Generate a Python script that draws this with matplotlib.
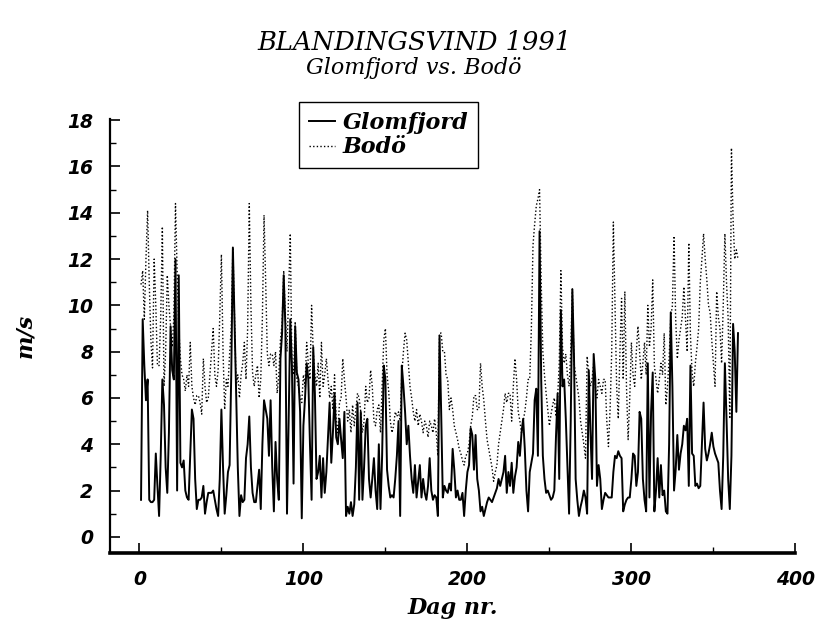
import matplotlib
matplotlib.use("Agg")
import matplotlib.pyplot as plt
import numpy as np

title = "BLANDINGSVIND 1991"
subtitle = "Glomfjord vs. Bodö"
xlabel = "Dag nr."
ylabel = "m/s"
series_names = ["Glomfjord", "Bodö"]
xticks = [0, 100, 200, 300, 400]
yticks = [0, 2, 4, 6, 8, 10, 12, 14, 16, 18]

glomfjord = [
    1.6, 9.4, 7.4, 5.9, 6.8, 1.6, 1.5, 1.5, 1.6, 3.6,
    2.2, 0.9, 3.5, 6.8, 5.7, 3.0, 1.9, 4.5, 9.1, 7.2,
    6.8, 12.0, 2.0, 11.3, 3.2, 3.0, 3.3, 2.0, 1.7, 1.6,
    3.5, 5.5, 5.1, 2.5, 1.2, 1.6, 1.6, 1.7, 2.2, 1.0,
    1.5, 1.9, 1.9, 1.9, 2.0, 1.6, 1.2, 0.9, 2.5, 5.5,
    3.0, 1.0, 1.8, 2.8, 3.1, 7.0, 12.5, 9.4, 6.2, 3.0,
    0.9, 1.8, 1.5, 1.6, 3.4, 4.0, 5.2, 3.0, 1.9, 1.5,
    1.5, 2.2, 2.9, 1.2, 4.0, 5.9, 5.5, 5.1, 3.5, 5.9,
    3.0, 1.1, 4.1, 2.5, 1.6, 7.7, 8.8, 11.3, 9.1, 1.0,
    5.0, 9.4, 7.4, 2.3, 9.1, 7.1, 6.8, 5.4, 0.8, 4.8,
    6.0, 7.5, 6.8, 4.0, 1.6, 8.2, 6.2, 2.5, 2.8, 3.5,
    1.7, 3.4, 1.9, 2.8, 4.3, 5.8, 3.2, 4.5, 6.2, 4.3,
    4.0, 5.1, 4.2, 3.4, 5.4, 0.9, 1.3, 1.0, 1.5, 0.9,
    1.4, 3.0, 5.8, 1.6, 5.4, 1.6, 3.0, 4.8, 5.1, 2.5,
    1.7, 2.5, 3.4, 2.0, 1.2, 4.0, 1.2, 3.5, 7.4, 6.8,
    2.9, 2.2, 1.7, 1.8, 1.7, 2.5, 3.5, 5.0, 0.9, 7.4,
    6.5, 5.4, 4.0, 4.8, 3.5, 2.5, 1.9, 3.1, 1.7, 2.4,
    3.1, 1.7, 2.5, 1.9, 1.6, 2.2, 3.4, 2.0, 1.6, 1.8,
    1.7, 0.9, 8.7, 5.4, 1.7, 2.2, 2.0, 1.9, 2.3, 2.0,
    3.8, 2.9, 1.7, 2.0, 1.6, 1.6, 1.9, 0.9, 2.0, 2.8,
    3.1, 4.7, 4.4, 2.9, 4.4, 2.5, 2.0, 1.1, 1.3, 0.9,
    1.2, 1.5, 1.7, 1.6, 1.5, 1.7, 1.9, 2.1, 2.5, 2.2,
    2.5, 2.8, 3.5, 1.9, 2.8, 2.2, 3.2, 1.9, 2.6, 3.0,
    4.1, 3.5, 4.5, 5.1, 3.8, 2.0, 1.1, 2.8, 3.2, 3.6,
    5.9, 6.4, 3.5, 13.2, 6.8, 3.5, 2.5, 1.9, 2.0, 1.8,
    1.6, 1.7, 2.0, 4.3, 6.2, 2.5, 9.8, 6.5, 6.8, 5.1,
    3.0, 1.0, 5.0, 10.7, 7.8, 2.5, 1.6, 0.9, 1.3, 1.6,
    2.0, 1.7, 1.0, 7.2, 4.6, 2.5, 7.9, 6.8, 2.2, 3.1,
    2.5, 1.2, 1.6, 1.9, 1.8, 1.7, 1.7, 1.7, 2.8, 3.5,
    3.4, 3.7, 3.5, 3.4, 1.1, 1.4, 1.6, 1.7, 1.7, 2.5,
    3.6, 3.5, 2.2, 2.8, 5.4, 5.1, 2.5, 1.6, 1.1, 7.5,
    1.7, 5.4, 7.1, 1.1, 2.0, 3.4, 1.7, 3.1, 1.8, 2.0,
    1.1, 1.0, 4.0, 9.7, 6.5, 2.0, 2.9, 4.4, 2.9, 3.6,
    4.0, 4.8, 4.6, 5.1, 2.2, 7.4, 3.6, 3.5, 2.2, 2.3,
    2.1, 2.2, 4.0, 5.8, 3.8, 3.3, 3.6, 4.0, 4.5, 3.9,
    3.6, 3.4, 3.2, 2.0, 1.2, 3.5, 7.5, 5.1, 2.5, 1.2,
    3.5, 9.2, 8.0, 5.4, 8.8,
]

bodo = [
    10.9, 11.5, 9.4, 12.0, 14.1, 11.0, 8.5, 7.3, 12.0, 10.0,
    7.4, 7.4, 9.5, 13.4, 6.5, 8.0, 11.3, 10.0, 9.1, 8.2,
    9.5, 14.4, 11.5, 9.0, 7.7, 7.0, 6.8, 6.3, 7.0, 6.5,
    8.4, 6.5, 6.0, 5.7, 6.1, 6.1, 5.8, 5.3, 7.7, 6.5,
    5.8, 6.0, 7.0, 8.0, 9.0, 7.0, 6.5, 7.2, 9.5, 12.2,
    8.0, 5.5, 6.8, 6.5, 7.9, 9.0, 12.5, 9.5, 6.5, 7.0,
    6.0, 7.0, 7.5, 8.4, 6.8, 9.0, 14.4, 10.0, 7.1, 6.5,
    7.0, 7.4, 6.0, 6.8, 9.5, 13.9, 11.0, 7.9, 7.4, 7.9,
    7.9, 7.4, 8.0, 6.2, 7.0, 8.5, 9.2, 11.5, 9.5, 8.0,
    10.5, 13.1, 7.4, 7.0, 9.3, 6.8, 6.5, 6.0, 5.8, 7.0,
    6.5, 8.4, 7.5, 6.8, 10.0, 8.0, 7.0, 6.5, 7.5, 6.0,
    8.4, 6.5, 7.0, 7.7, 6.8, 6.0, 6.5, 5.5, 7.0, 5.0,
    4.5, 5.8, 6.0, 7.7, 6.8, 6.0, 5.0, 5.5, 4.5, 5.7,
    4.8, 5.5, 6.2, 6.0, 5.4, 4.5, 5.0, 6.5, 5.8, 6.0,
    7.2, 6.5, 5.0, 4.8, 5.5, 5.7, 4.5, 6.5, 8.5, 9.0,
    7.0, 6.3, 5.0, 4.5, 4.8, 5.4, 5.2, 5.4, 5.0, 7.0,
    8.0, 8.8, 8.5, 7.5, 6.5, 6.0, 5.4, 5.0, 5.5, 4.8,
    5.3, 5.0, 4.5, 5.0, 4.8, 4.3, 5.0, 4.8, 4.5, 5.1,
    4.5, 3.5, 8.8, 8.8, 8.0, 8.0, 7.0, 6.8, 5.5, 6.0,
    5.5, 4.8, 4.5, 4.2, 3.8, 3.6, 3.3, 3.1, 3.5, 3.6,
    4.0, 4.8, 5.2, 6.1, 6.1, 5.5, 5.5, 7.5, 6.5, 5.9,
    5.0, 4.2, 3.8, 3.4, 3.0, 2.4, 2.8, 3.1, 4.0, 4.5,
    5.0, 5.5, 6.2, 5.8, 6.2, 6.2, 5.0, 6.5, 7.7, 6.8,
    5.4, 5.0, 4.5, 5.0, 5.4, 6.0, 6.8, 6.8, 9.0, 12.6,
    13.5, 14.3, 14.6, 15.0, 11.0, 8.0, 7.0, 6.2, 5.5, 4.8,
    5.3, 5.7, 6.0, 5.2, 6.0, 7.5, 11.5, 8.2, 7.5, 7.9,
    7.0, 6.5, 8.0, 10.7, 7.5, 7.0, 6.5, 6.0, 5.0, 4.5,
    4.0, 3.4, 7.8, 7.0, 6.5, 6.8, 7.5, 6.5, 6.0, 6.8,
    6.5, 6.2, 6.8, 6.8, 5.0, 3.9, 5.5, 8.0, 13.6, 10.0,
    6.5, 5.1, 8.0, 10.3, 6.8, 10.6, 6.5, 4.2, 6.0, 8.4,
    7.0, 6.5, 8.0, 9.1, 8.0, 6.8, 7.5, 8.4, 7.0, 10.0,
    8.2, 9.0, 11.1, 7.4, 6.8, 6.2, 6.8, 7.5, 7.0, 8.8,
    5.7, 6.5, 7.7, 9.5, 10.0, 13.0, 9.4, 7.7, 8.5, 9.0,
    9.5, 10.8, 9.4, 8.0, 12.7, 8.7, 7.1, 6.5, 7.5, 8.2,
    9.0, 11.0, 12.0, 13.1, 12.0, 11.1, 10.0, 9.7, 8.5, 7.5,
    6.5, 10.6, 9.5, 9.0, 7.5, 10.0, 13.1, 11.0, 9.4, 5.1,
    16.8, 13.7, 12.0, 12.4, 12.0,
]

days = np.arange(1, len(glomfjord) + 1)

fig = plt.figure(figsize=(8.2, 6.2), dpi=100)
ax = fig.add_axes([0.134, 0.108, 0.836, 0.700])

serif_bi = dict(family="DejaVu Serif", style="italic", weight="bold")

ax.plot(days, bodo, color="black", lw=1.0, linestyle=(0, (1, 1.6)), label=series_names[1], zorder=2)
ax.plot(days, glomfjord, color="black", lw=1.4, linestyle="-", label=series_names[0], zorder=3)

ax.set_xlim(-18, 400)
ax.set_ylim(-0.7, 18.05)
ax.set_xticks(xticks)
ax.set_xticks([50, 150, 250, 350], minor=True)
ax.set_yticks(yticks)
ax.set_yticks(np.arange(1, 18, 2), minor=True)
ax.tick_params(axis="both", which="major", direction="in", length=7, width=1.2, pad=12)
ax.tick_params(axis="both", which="minor", direction="in", length=4, width=1.0)
ax.tick_params(axis="x", which="major", pad=12)
for lab in ax.get_xticklabels() + ax.get_yticklabels():
    lab.set_fontfamily("DejaVu Sans")
    lab.set_fontstyle("oblique")
    lab.set_fontweight("bold")
    lab.set_fontsize(13.5)

for s in ["top", "right"]:
    ax.spines[s].set_visible(False)
ax.spines["left"].set_linewidth(1.6)
ax.spines["bottom"].set_linewidth(2.6)

ax.set_xlabel(xlabel, fontsize=16, labelpad=6, **serif_bi)
ax.set_ylabel(ylabel, fontsize=16, labelpad=22, **serif_bi)

fig.text(0.505, 0.932, title, ha="center", va="center", fontsize=18.5,
         family="DejaVu Serif", style="italic")
fig.text(0.505, 0.890, subtitle, ha="center", va="center", fontsize=16,
         family="DejaVu Serif", style="italic")

handles, labels = ax.get_legend_handles_labels()
leg = ax.legend(handles[::-1], labels[::-1], loc="upper left", bbox_to_anchor=(0.276, 1.039),
                frameon=True, fancybox=False, edgecolor="black", framealpha=1,
                handlelength=1.15, handletextpad=0.35, borderpad=0.45, labelspacing=0.1,
                borderaxespad=0,
                prop=dict(family="DejaVu Serif", style="italic", weight="bold", size=16))
leg.get_frame().set_linewidth(1.0)

fig.savefig("out.png", dpi=100)
